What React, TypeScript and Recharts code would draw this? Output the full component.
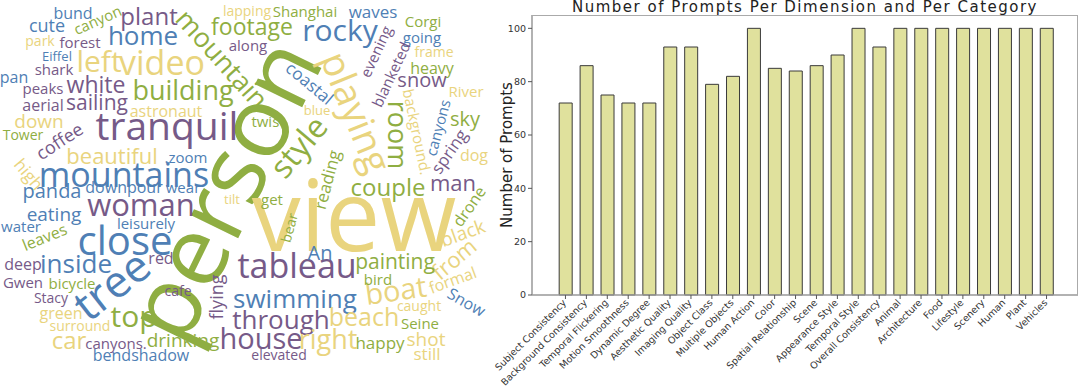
import React from 'react'
import {
  BarChart,
  Bar,
  XAxis,
  YAxis,
  ScatterChart,
  Scatter,
} from 'recharts'

const dimensions = [
  'Subject Consistency',
  'Background Consistency',
  'Temporal Flickering',
  'Motion Smoothness',
  'Dynamic Degree',
  'Aesthetic Quality',
  'Imaging Quality',
  'Object Class',
  'Multiple Objects',
  'Human Action',
  'Color',
  'Spatial Relationship',
  'Scene',
  'Appearance Style',
  'Temporal Style',
  'Overall Consistency',
  'Animal',
  'Architecture',
  'Food',
  'Lifestyle',
  'Scenery',
  'Human',
  'Plant',
  'Vehicles',
]

const promptCounts = [
  72, 86, 75, 72, 72, 93, 93, 79, 82, 100, 85, 84, 86, 90, 100, 93,
  100, 100, 100, 100, 100, 100, 100, 100,
]

const yTicks = [0, 20, 40, 60, 80, 100]

const chartTitle = 'Number of Prompts Per Dimension and Per Category'
const yLabel = 'Number of Prompts'

// word cloud: [word, x, y, size, tilt, tone]
const cloudWords: [string, number, number, number, number, string][] = [
  ['person', 228, 192, 98, -64, 'g'],
  ['view', 354, 222, 98, 0, 'y'],
  ['tranquil', 167, 128, 39, 0, 'p'],
  ['mountains', 124, 177, 34, 0, 'b'],
  ['close', 125, 243, 40, 0, 'b'],
  ['tree', 113, 287, 44, -38, 'b'],
  ['tableau', 297, 268, 34, 0, 'p'],
  ['video', 162, 65, 34, 0, 'y'],
  ['woman', 141, 207, 31, 0, 'p'],
  ['playing', 354, 113, 38, 68, 'y'],
  ['style', 300, 148, 32, -50, 'g'],
  ['rocky', 340, 32, 30, 0, 'b'],
  ['left', 99, 63, 30, 0, 'y'],
  ['top', 134, 318, 30, 0, 'g'],
  ['mountain', 221, 60, 27, 48, 'g'],
  ['building', 183, 92, 27, 0, 'g'],
  ['house', 261, 340, 29, 0, 'p'],
  ['boat', 396, 292, 29, -8, 'y'],
  ['home', 143, 37, 26, 0, 'b'],
  ['inside', 76, 265, 26, 0, 'b'],
  ['swimming', 295, 300, 26, 0, 'b'],
  ['through', 281, 321, 26, 0, 'p'],
  ['room', 396, 135, 27, 90, 'g'],
  ['right', 328, 341, 27, 0, 'y'],
  ['beach', 364, 318, 25, 0, 'y'],
  ['couple', 388, 189, 24, 0, 'g'],
  ['plant', 149, 18, 24, 0, 'p'],
  ['car', 69, 342, 24, 0, 'y'],
  ['footage', 252, 28, 23, 0, 'g'],
  ['white', 96, 86, 23, 0, 'p'],
  ['beautiful', 112, 157, 22, 0, 'y'],
  ['man', 453, 184, 22, 0, 'p'],
  ['from', 455, 260, 22, -40, 'y'],
  ['sailing', 97, 104, 21, 0, 'p'],
  ['painting', 395, 263, 21, 0, 'g'],
  ['panda', 52, 192, 20, 0, 'b'],
  ['snow', 422, 81, 20, 0, 'p'],
  ['sky', 465, 120, 20, 0, 'g'],
  ['An', 320, 254, 20, 0, 'b'],
  ['eating', 54, 215, 19, 0, 'b'],
  ['down', 39, 122, 19, 0, 'y'],
  ['drinking', 183, 341, 19, 0, 'g'],
  ['black', 463, 234, 19, -20, 'y'],
  ['shot', 426, 340, 19, 0, 'y'],
  ['coffee', 60, 142, 18, -33, 'p'],
  ['cute', 47, 27, 18, 0, 'b'],
  ['flying', 218, 297, 18, -90, 'p'],
  ['high', 28, 175, 17, 50, 'y'],
  ['spring', 450, 152, 17, -55, 'p'],
  ['reading', 328, 180, 17, -75, 'g'],
  ['coastal', 309, 84, 17, 40, 'b'],
  ['happy', 380, 344, 17, 0, 'g'],
  ['still', 427, 355, 17, 0, 'y'],
  ['waves', 373, 13, 17, 0, 'b'],
  ['heavy', 432, 69, 16, 0, 'g'],
  ['bund', 73, 14, 16, 0, 'b'],
  ['pan', 14, 78, 16, 0, 'b'],
  ['aerial', 43, 106, 16, 0, 'p'],
  ['astronaut', 166, 112, 16, 0, 'y'],
  ['downpour', 124, 188, 16, 0, 'b'],
  ['leaves', 45, 238, 16, -22, 'g'],
  ['deep', 23, 265, 16, 0, 'p'],
  ['red', 161, 259, 16, 0, 'p'],
  ['green', 61, 314, 16, 0, 'y'],
  ['bendshadow', 141, 356, 16, 0, 'b'],
  ['dog', 474, 156, 16, 0, 'y'],
  ['drone', 470, 207, 16, -55, 'g'],
  ['Snow', 466, 303, 16, 30, 'b'],
  ['formal', 453, 281, 16, -20, 'y'],
  ['background.', 416, 132, 15, 78, 'y'],
  ['canyons', 439, 128, 15, -75, 'b'],
  ['canyon', 98, 21, 15, -24, 'g'],
  ['forest', 80, 43, 15, 0, 'p'],
  ['shark', 54, 70, 15, 0, 'p'],
  ['peaks', 43, 89, 15, 0, 'p'],
  ['wear', 183, 188, 15, 0, 'b'],
  ['water', 21, 227, 15, 0, 'b'],
  ['leisurely', 146, 224, 15, 0, 'b'],
  ['Gwen', 23, 283, 15, 0, 'p'],
  ['bicycle', 72, 284, 15, 0, 'g'],
  ['canyons.', 116, 344, 15, 0, 'p'],
  ['Shanghai', 305, 12, 15, 0, 'g'],
  ['along', 248, 46, 15, 0, 'p'],
  ['Corgi', 423, 22, 15, 0, 'g'],
  ['going', 422, 38, 15, 0, 'b'],
  ['evening', 377, 52, 15, -65, 'p'],
  ['blanketed', 392, 75, 15, -65, 'p'],
  ['twist', 268, 122, 15, 0, 'g'],
  ['get', 272, 200, 15, 0, 'g'],
  ['bird', 378, 280, 15, 0, 'g'],
  ['Seine', 420, 324, 15, 0, 'g'],
  ['River', 466, 92, 15, 0, 'y'],
  ['.zoom', 186, 158, 15, 0, 'b'],
  ['frame', 434, 53, 14, 0, 'y'],
  ['park', 40, 42, 14, 0, 'y'],
  ['Tower', 23, 136, 14, 0, 'g'],
  ['Stacy', 51, 299, 14, 0, 'p'],
  ['cafe', 178, 292, 14, 0, 'p'],
  ['surround', 80, 327, 14, 0, 'y'],
  ['elevated', 279, 356, 14, 0, 'p'],
  ['caught', 419, 307, 14, 0, 'y'],
  ['bear', 290, 228, 14, -75, 'g'],
  ['lapping', 247, 12, 14, 0, 'y'],
  ['Eiffel', 57, 57, 13, 0, 'b'],
  ['blue', 317, 111, 13, 0, 'y'],
  ['tilt', 232, 200, 13, 0, 'y'],
]

const tones: Record<string, string> = {
  g: '#8fae42',
  p: '#765a88',
  b: '#4f7fb5',
  y: '#e9d47e',
}

const barRows = dimensions.map((name, i) => ({ name, prompts: promptCounts[i] }))
const cloudRows = cloudWords.map(([text, x, y, size, tilt, tone]) => ({ text, x, y, size, tilt, tone }))

const mpl = 'DejaVu Sans, sans-serif'

function WordMark(props: any) {
  const { cx, cy, payload } = props
  if (cx == null || cy == null) return null
  return (
    <g transform={`translate(${cx},${cy}) rotate(${payload.tilt})`}>
      <text
        x={0}
        y={payload.size * 0.3}
        textAnchor="middle"
        fontSize={payload.size}
        fontFamily="Open Sans, sans-serif"
        fill={tones[payload.tone]}
      >
        {payload.text}
      </text>
    </g>
  )
}

function SlantTick(props: any) {
  const { x, y, payload } = props
  return (
    <g transform={`translate(${x - 1},${y})`}>
      <text
        x={0}
        y={0}
        dy="0.35em"
        transform="rotate(-45)"
        textAnchor="end"
        fontSize={9.5}
        fontFamily={mpl}
        fill="#333"
      >
        {payload.value}
      </text>
    </g>
  )
}

function YLabel(props: any) {
  const { viewBox } = props
  const cx = viewBox.x + 27
  const cy = viewBox.y + viewBox.height / 2
  return (
    <text
      x={cx}
      y={cy}
      transform={`rotate(-90, ${cx}, ${cy})`}
      textAnchor="middle"
      dominantBaseline="central"
      fontSize={15}
      fontFamily={mpl}
      fill="#222"
    >
      {yLabel}
    </text>
  )
}

export default function App() {
  return (
    <div style={{ position: 'absolute', left: 0, top: 0, width: 1080, height: 392, background: '#fff' }}>
      <div style={{ position: 'absolute', left: 0, top: 0 }}>
        <ScatterChart width={490} height={392} margin={{ top: 0, right: 0, bottom: 0, left: 0 }}>
          <XAxis type="number" dataKey="x" domain={[0, 490]} hide />
          <YAxis type="number" dataKey="y" domain={[0, 392]} reversed hide />
          <Scatter data={cloudRows} shape={<WordMark />} isAnimationActive={false} />
        </ScatterChart>
      </div>
      <div
        style={{
          position: 'absolute',
          left: 532,
          top: -2,
          width: 546,
          textAlign: 'center',
          fontFamily: mpl,
          fontSize: 15,
          letterSpacing: '1.5px',
          lineHeight: '18px',
          color: '#222',
          whiteSpace: 'nowrap',
        }}
      >
        {chartTitle}
      </div>
      <div style={{ position: 'absolute', left: 480, top: 0 }}>
        <BarChart
          width={600}
          height={392}
          data={barRows}
          margin={{ top: 15, right: 2, bottom: 0, left: 0 }}
          barCategoryGap="20%"
        >
          <XAxis
            dataKey="name"
            interval={0}
            height={97}
            tick={<SlantTick />}
            tickSize={4}
            tickLine={{ stroke: '#555' }}
            axisLine={{ stroke: '#999', strokeWidth: 1.5 }}
            padding={{ left: 23, right: 21 }}
          />
          <YAxis
            domain={[0, 105]}
            ticks={yTicks}
            width={52}
            tickSize={4}
            tick={{ fontSize: 9.5, fontFamily: mpl, fill: '#333' }}
            tickLine={{ stroke: '#555' }}
            axisLine={{ stroke: '#999', strokeWidth: 1.5 }}
            label={<YLabel />}
          />
          <Bar dataKey="prompts" fill="#e0e19d" stroke="#3a3a3a" strokeWidth={1} isAnimationActive={false} />
        </BarChart>
      </div>
      <div
        style={{
          position: 'absolute',
          left: 532,
          top: 15,
          width: 546,
          height: 280,
          boxSizing: 'border-box',
          borderTop: '1px solid #aaa',
          borderRight: '1px solid #aaa',
          pointerEvents: 'none',
        }}
      />
    </div>
  )
}
